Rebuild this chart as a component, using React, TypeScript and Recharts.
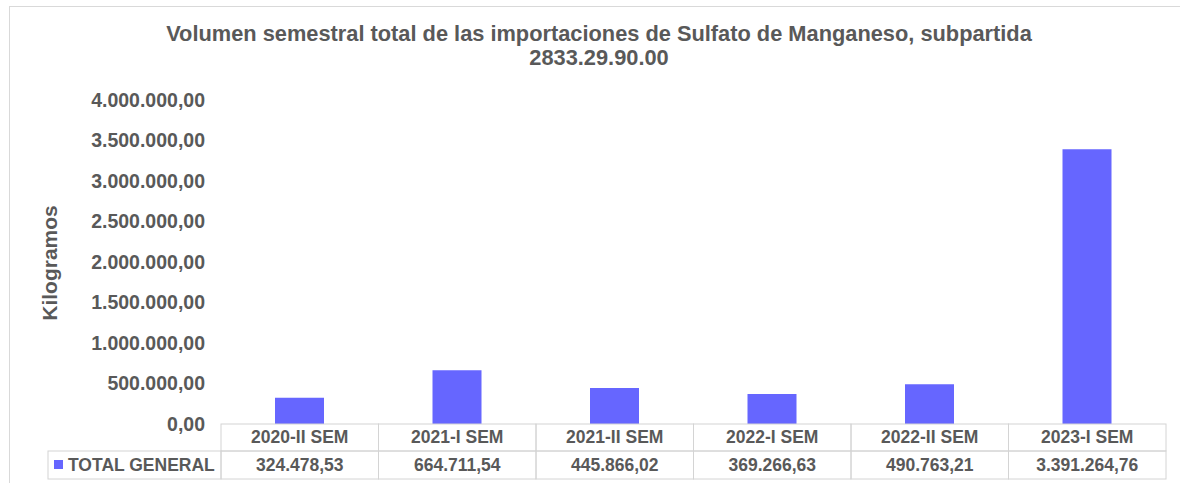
import React from 'react';
import { BarChart, Bar, XAxis, YAxis } from 'recharts';

// Semestres y volumen total importado (kg)
const categories = ['2020-II SEM', '2021-I SEM', '2021-II SEM', '2022-I SEM', '2022-II SEM', '2023-I SEM'];
const totals = [324478.53, 664711.54, 445866.02, 369266.63, 490763.21, 3391264.76];
const yTicks = [0, 500000, 1000000, 1500000, 2000000, 2500000, 3000000, 3500000, 4000000];
const seriesName = 'TOTAL GENERAL';

const TEXT = '#595959';
const BAR = '#6666FF';
const GRID = '#d4d4d4';
const FONT = '"Liberation Sans", Arial, sans-serif';

const data = categories.map((c, i) => ({ semestre: c, total: totals[i] }));

// 1234567.8 -> "1.234.567,80"
const fmt = (v: number) => {
  const [int, dec] = v.toFixed(2).split('.');
  return int.replace(/\B(?=(\d{3})+(?!\d))/g, '.') + ',' + dec;
};

const TableTick = (props: any) => {
  const { x, y, payload, index, width } = props;
  const band = payload && payload.offset ? payload.offset * 2 : width / categories.length;
  const left = x - band / 2;
  const rowH = 27;
  return (
    <g>
      <rect x={left} y={y} width={band} height={rowH} fill="none" stroke={GRID} />
      <rect x={left} y={y + rowH} width={band} height={rowH + 1} fill="none" stroke={GRID} />
      <text x={x} y={y + 19} textAnchor="middle" fontSize={17.5} fontWeight="bold" fill={TEXT} fontFamily={FONT}>
        {payload.value}
      </text>
      <text x={x} y={y + rowH + 20} textAnchor="middle" fontSize={17.5} fontWeight="bold" fill={TEXT} fontFamily={FONT}>
        {fmt(totals[index])}
      </text>
      {index === 0 && (
        <g>
          <rect x={left - 173} y={y + rowH} width={173} height={rowH + 1} fill="none" stroke={GRID} />
          <rect x={left - 167} y={y + rowH + 9} width={9} height={9} fill={BAR} />
          <text x={left - 153} y={y + rowH + 20} fontSize={17.5} fontWeight="bold" fill={TEXT} fontFamily={FONT}>
            {seriesName}
          </text>
        </g>
      )}
    </g>
  );
};

const YLabel = () => (
  <text
    x={57}
    y={263}
    transform="rotate(-90, 57, 263)"
    textAnchor="middle"
    fontSize={21}
    fontWeight="bold"
    fill={TEXT}
    fontFamily={FONT}
  >
    Kilogramos
  </text>
);

export default function App() {
  return (
    <div style={{ position: 'absolute', left: 0, top: 0, width: 1180, height: 483, background: '#fff', overflow: 'hidden' }}>
      <div
        style={{
          position: 'absolute', left: 9, top: 6, width: 1200, height: 500,
          borderLeft: '1px solid #d9d9d9', borderTop: '1px solid #d9d9d9',
        }}
      />
      <div
        style={{
          position: 'absolute', left: 0, top: 22, width: 1198, textAlign: 'center',
          fontFamily: FONT, fontWeight: 'bold', fontSize: 21.8, lineHeight: '24px', color: TEXT,
        }}
      >
        Volumen semestral total de las importaciones de Sulfato de Manganeso, subpartida
        <br />
        2833.29.90.00
      </div>
      <div style={{ position: 'absolute', left: 0, top: 0 }}>
        <BarChart width={1180} height={483} data={data} margin={{ top: 100, right: 14, bottom: 0, left: 0 }}>
          <XAxis
            dataKey="semestre"
            height={59}
            axisLine={false}
            tickLine={false}
            tickSize={0}
            tickMargin={0}
            interval={0}
            tick={<TableTick />}
          />
          <YAxis
            width={221}
            domain={[0, 4000000]}
            ticks={yTicks}
            axisLine={false}
            tickLine={false}
            tickMargin={10}
            tickFormatter={fmt}
            tick={{ fill: TEXT, fontSize: 19.5, fontWeight: 'bold', fontFamily: FONT }}
            label={<YLabel />}
          />
          <Bar dataKey="total" name={seriesName} fill={BAR} barSize={49} isAnimationActive={false} />
        </BarChart>
      </div>
    </div>
  );
}
